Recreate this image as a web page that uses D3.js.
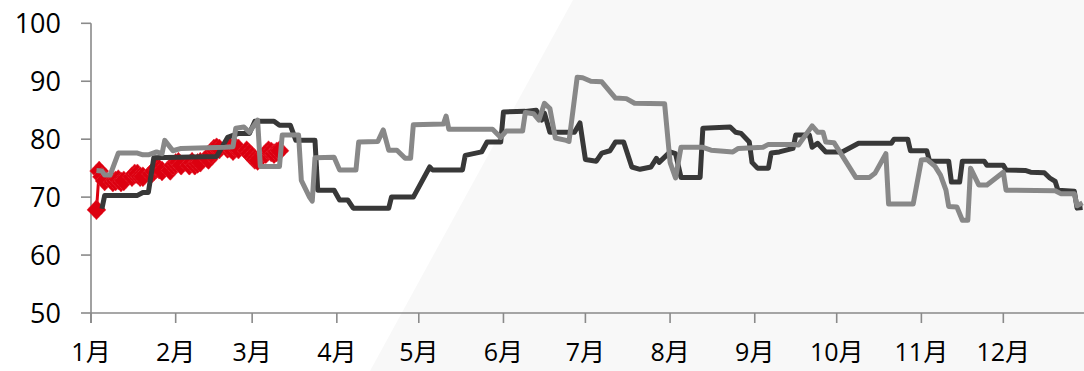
<!DOCTYPE html>
<html>
<head>
<meta charset="utf-8">
<script src="https://cdn.jsdelivr.net/npm/d3@7"></script>
<style>
  body { margin: 0; background: #fff; }
  svg { display: block; }
  text { font-family: "Open Sans", "Noto Sans CJK SC", sans-serif; fill: #000; }
</style>
</head>
<body>
<svg id="chart"></svg>
<script>
var W = 1084, H = 371

// month tick labels
var monthLabels = ["1月","2月","3月","4月","5月","6月","7月","8月","9月","10月","11月","12月"]
var yTicks = [50, 60, 70, 80, 90, 100]

// red series (diamonds), early part of the year
var redSeries = [
  ["01-03",67.8],["01-04",74.5],["01-05",73.5],["01-06",72.8],["01-09",72.6],["01-10",72.8],
  ["01-11",73.0],["01-12",72.6],["01-13",72.8],["01-16",73.5],["01-17",74.0],["01-18",74.0],
  ["01-19",73.5],["01-20",73.5],["01-23",74.0],["01-24",74.5],["01-25",75.0],["01-26",74.8],
  ["01-27",74.5],["01-30",74.6],["01-31",75.5],["02-01",75.8],["02-02",76.0],["02-03",75.5],
  ["02-06",75.5],["02-07",76.0],["02-08",75.5],["02-09",75.8],["02-10",76.0],["02-13",76.5],
  ["02-14",77.5],["02-15",78.3],["02-16",78.5],["02-17",78.3],["02-20",78.4],["02-21",78.5],
  ["02-22",78.0],["02-23",78.5],["02-24",78.3],["02-27",78.0],["02-28",77.5],["03-01",77.0],
  ["03-02",76.5],["03-03",76.3],["03-06",77.5],["03-07",78.0],["03-08",77.8],["03-09",77.5],
  ["03-10",77.8],["03-11",78.0]
]

// dark series
var darkSeries = [
  ["01-05",68.0],["01-06",70.3],["01-18",70.3],["01-20",70.8],["01-22",70.8],["01-24",76.8],
  ["02-16",77.0],["02-20",80.3],["02-24",81.0],["02-28",81.0],["03-02",83.1],["03-09",83.1],
  ["03-11",82.4],["03-15",82.4],["03-17",79.8],["03-24",79.8],["03-25",71.2],["03-31",71.2],
  ["04-02",69.5],["04-05",69.5],["04-07",68.1],["04-20",68.1],["04-21",70.0],["04-29",70.0],
  ["05-05",75.2],["05-06",74.7],["05-17",74.7],["05-18",77.2],["05-24",77.8],["05-26",79.5],
  ["05-31",79.5],["06-01",84.7],["06-09",84.8],["06-13",85.0],["06-15",83.3],["06-16",84.5],
  ["06-18",81.2],["06-27",81.2],["06-29",82.8],["07-01",76.5],["07-05",76.2],["07-07",77.6],
  ["07-10",78.0],["07-12",79.5],["07-15",79.5],["07-18",75.2],["07-21",74.8],["07-25",75.2],
  ["07-27",76.7],["07-28",76.0],["08-01",77.8],["08-03",77.5],["08-05",73.4],["08-12",73.4],
  ["08-13",81.9],["08-23",82.1],["08-25",81.2],["08-27",81.0],["08-30",79.5],["08-31",76.0],
  ["09-02",75.0],["09-06",75.0],["09-07",77.6],["09-10",77.8],["09-15",78.4],["09-16",80.7],
  ["09-21",80.7],["09-22",78.6],["09-24",79.3],["09-27",77.8],["10-03",77.8],["10-09",79.3],
  ["10-21",79.3],["10-22",80.0],["10-27",80.0],["10-28",78.0],["11-03",78.0],["11-04",76.2],
  ["11-11",76.2],["11-12",72.6],["11-15",72.6],["11-16",76.2],["11-24",76.2],["11-25",75.5],
  ["12-01",75.5],["12-02",74.7],["12-09",74.6],["12-11",74.3],["12-16",74.2],["12-18",73.3],
  ["12-20",72.7],["12-21",71.2],["12-27",71.0],["12-28",68.1],["12-30",68.2]
]

// light gray series
var graySeries = [
  ["01-03",74.6],["01-05",74.5],["01-06",73.8],["01-08",73.8],["01-11",77.6],["01-18",77.6],
  ["01-20",77.3],["01-22",77.3],["01-25",77.8],["01-27",77.5],["01-28",79.8],["01-31",78.0],
  ["02-03",78.4],["02-19",78.6],["02-22",78.7],["02-23",81.9],["02-26",82.1],["02-28",81.2],
  ["03-03",83.3],["03-04",75.3],["03-11",75.3],["03-12",80.7],["03-18",80.7],["03-19",72.9],
  ["03-22",70.0],["03-23",69.3],["03-24",76.8],["03-31",76.9],["04-02",74.7],["04-08",74.7],
  ["04-09",79.5],["04-16",79.6],["04-18",81.6],["04-20",78.1],["04-23",78.1],["04-26",76.7],
  ["04-28",76.7],["04-29",82.5],["05-10",82.6],["05-11",84.0],["05-12",81.7],["05-28",81.7],
  ["05-31",80.3],["06-02",81.4],["06-08",81.4],["06-09",84.6],["06-12",84.4],["06-14",83.3],
  ["06-16",86.2],["06-18",85.3],["06-20",80.2],["06-24",79.8],["06-25",79.6],["06-28",90.7],
  ["06-30",90.6],["07-03",90.0],["07-07",89.9],["07-12",87.1],["07-16",87.0],["07-19",86.2],
  ["07-30",86.1],["08-01",76.0],["08-03",73.3],["08-05",78.6],["08-13",78.6],["08-16",78.1],
  ["08-24",77.8],["08-26",78.4],["09-04",78.6],["09-06",79.1],["09-15",79.1],["09-17",79.0],
  ["09-22",82.3],["09-24",81.2],["09-26",81.2],["09-27",79.5],["09-30",79.4],["10-08",73.4],
  ["10-13",73.4],["10-15",74.1],["10-19",77.5],["10-20",68.8],["10-29",68.8],["11-01",76.4],
  ["11-03",76.5],["11-06",75.3],["11-08",73.8],["11-10",71.2],["11-11",68.4],["11-14",68.3],
  ["11-16",66.0],["11-18",66.0],["11-19",75.0],["11-22",72.1],["11-25",72.1],["12-01",74.3],
  ["12-02",71.2],["12-20",71.1],["12-22",70.6],["12-27",70.6],["12-28",68.5],["12-30",69.0]
]

var parse = d3.timeParse("%Y-%m-%d")
function toPoints(arr){ return arr.map(d => ({date: parse("2023-" + d[0]), value: d[1]})) }

var svg = d3.select("#chart").attr("width", W).attr("height", H)

// light diagonal backdrop
svg.append("polygon")
   .attr("points", "573,0 1084,0 1084,371 370,371")
   .attr("fill", "#f8f8f8")

var x = d3.scaleTime()
    .domain([parse("2023-01-01"), parse("2024-01-01")])
    .range([91, 1088])

var y = d3.scaleLinear()
    .domain([50, 100])
    .range([313, 23.3])

//axes
var axisColor = "#8a8a8a"
svg.append("line")
   .attr("x1", 91).attr("x2", W).attr("y1", y(50)).attr("y2", y(50))
   .attr("stroke", axisColor).attr("stroke-width", 1.6)
svg.append("line")
   .attr("x1", 91).attr("x2", 91).attr("y1", y(100)).attr("y2", y(50) + 10)
   .attr("stroke", axisColor).attr("stroke-width", 1.6)

svg.selectAll(".ytick").data(yTicks).enter()
   .append("line")
   .attr("x1", 81).attr("x2", 91)
   .attr("y1", d => y(d)).attr("y2", d => y(d))
   .attr("stroke", axisColor).attr("stroke-width", 1.6)

svg.selectAll(".ylab").data(yTicks).enter()
   .append("text")
   .attr("x", 61).attr("y", d => y(d))
   .attr("dy", "0.36em")
   .attr("text-anchor", "end")
   .style("font-size", "27px")
   .text(d => d)

var months = d3.range(12).map(i => new Date(2023, i, 1))

svg.selectAll(".xtick").data(months).enter()
   .append("line")
   .attr("x1", d => x(d)).attr("x2", d => x(d))
   .attr("y1", y(50)).attr("y2", y(50) + 10)
   .attr("stroke", axisColor).attr("stroke-width", 1.6)

svg.selectAll(".xlab").data(months).enter()
   .append("text")
   .attr("x", d => x(d)).attr("y", 361)
   .attr("text-anchor", "middle")
   .style("font-size", "25px")
   .text((d, i) => monthLabels[i])

var line = d3.line().x(d => x(d.date)).y(d => y(d.value))

// red diamonds
var red = toPoints(redSeries)
svg.append("path")
   .attr("d", line(red))
   .attr("fill", "none")
   .attr("stroke", "#dc0010")
   .attr("stroke-width", 3)

svg.selectAll(".dia").data(red).enter()
   .append("path")
   .attr("transform", d => "translate(" + x(d.date) + "," + y(d.value) + ")")
   .attr("d", "M0,-10L9.5,0L0,10L-9.5,0Z")
   .attr("fill", "#dc0010")
   .attr("stroke", "#e83040")
   .attr("stroke-width", 0.8)
   .attr("stroke-dasharray", "1 1")

svg.append("path")
   .attr("d", line(toPoints(darkSeries)))
   .attr("fill", "none")
   .attr("stroke", "#383838")
   .attr("stroke-width", 5)
   .attr("stroke-linejoin", "round")

svg.append("path")
   .attr("d", line(toPoints(graySeries)))
   .attr("fill", "none")
   .attr("stroke", "#888888")
   .attr("stroke-width", 5)
   .attr("stroke-linejoin", "round")
</script>
</body>
</html>
